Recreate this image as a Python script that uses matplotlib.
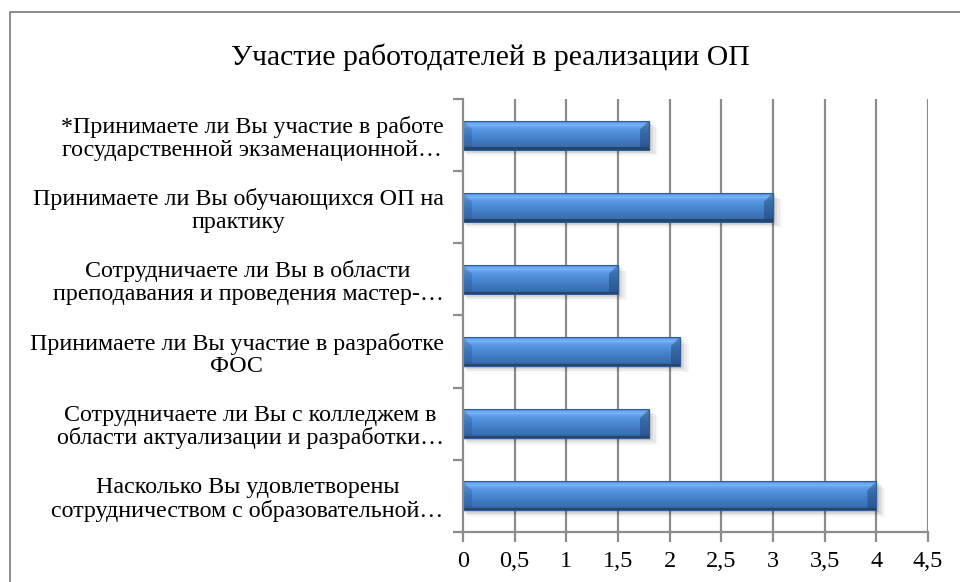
import matplotlib
matplotlib.use("Agg")
import matplotlib.pyplot as plt
import numpy as np
from matplotlib.colors import LinearSegmentedColormap
from matplotlib.patches import Polygon, Rectangle
from matplotlib.lines import Line2D

plt.rcParams['font.family'] = ['Liberation Serif', 'DejaVu Serif']

title = "Участие работодателей в реализации ОП"
categories = [
    "*Принимаете ли Вы участие в работе\nгосударственной экзаменационной…",
    "Принимаете ли Вы обучающихся ОП на\nпрактику",
    "Сотрудничаете ли Вы в области\nпреподавания и проведения мастер-…",
    "Принимаете ли Вы участие в разработке\nФОС",
    "Сотрудничаете ли Вы с колледжем в\nобласти актуализации и разработки…",
    "Насколько Вы удовлетворены\nсотрудничеством с образовательной…",
]
values = [1.8, 3.0, 1.5, 2.1, 1.8, 4.0]
xticks = [0, 0.5, 1, 1.5, 2, 2.5, 3, 3.5, 4, 4.5]
xtick_labels = ["0", "0,5", "1", "1,5", "2", "2,5", "3", "3,5", "4", "4,5"]

W, H = 960, 582
fig = plt.figure(figsize=(W / 100, H / 100), dpi=100)
ax = fig.add_axes([463 / W, 1 - 532 / H, (928 - 463) / W, (532 - 99) / H])

n = len(categories)
ypos = np.arange(n)[::-1]  # first category at top
bar_h = 0.4

ax.set_xlim(0, 4.5)
ax.set_ylim(-0.5, n - 0.5)

# gridlines
for xv in xticks[1:]:
    ax.axvline(xv, color="#8c8c8c", lw=1.6, zorder=0)

cmap = LinearSegmentedColormap.from_list(
    "bar3d",
    [(0.0, "#2b5489"), (0.12, "#3a6db0"), (0.45, "#4682cc"),
     (0.75, "#5b9ae6"), (0.88, "#7db6f5"), (0.94, "#5e9ee8"), (1.0, "#3f7cc8")])
grad = np.linspace(0, 1, 256).reshape(-1, 1)

bars = ax.barh(ypos, values, height=bar_h, color="none", edgecolor="none", zorder=3)

px_x = 4.5 / (928 - 463)
px_y = n / (532 - 99)
bev_x = 9 * px_x
bev_y = 9 * px_y

for b, v, y in zip(bars, values, ypos):
    y0, y1 = y - bar_h / 2, y + bar_h / 2
    for k, a in enumerate([0.10, 0.07, 0.05, 0.03]):
        off = (k + 1) * 1.6
        ax.add_patch(Rectangle((off * px_x * 0.6, y0 - off * px_y),
                               v + off * px_x * 0.8, bar_h,
                               facecolor="#000000", alpha=a, edgecolor="none", zorder=2))
    im = ax.imshow(grad, extent=(0, v, y0, y1), origin="lower", aspect="auto",
                   cmap=cmap, zorder=3, interpolation="bicubic")
    im.set_clip_path(b)
    ax.add_patch(Polygon([(0, y1), (bev_x, y1 - bev_y), (bev_x, y0 + bev_y * 0.3), (0, y0)],
                         closed=True, facecolor="#1f4a80", alpha=0.25, edgecolor="none", zorder=4))
    ax.add_patch(Polygon([(v, y1), (v - bev_x, y1 - bev_y), (v - bev_x, y0 + bev_y * 0.3), (v, y0)],
                         closed=True, facecolor="#1a3f6e", alpha=0.45, edgecolor="none", zorder=4))
    ax.add_patch(Rectangle((0, y0), v, 2.2 * px_y, facecolor="#223f66", alpha=0.8,
                           edgecolor="none", zorder=4))
    ax.add_patch(Rectangle((0, y0), v, bar_h, facecolor="none", edgecolor="#2f5d96",
                           lw=0.8, zorder=5))

for s in ["top", "right"]:
    ax.spines[s].set_visible(False)
for s in ["left", "bottom"]:
    ax.spines[s].set_color("#8c8c8c")
    ax.spines[s].set_linewidth(1.6)
    ax.spines[s].set_zorder(6)

ax.set_xticks(xticks)
ax.set_xticklabels(xtick_labels, fontsize=17.5)
ax.tick_params(axis="x", length=7, width=1.6, color="#8c8c8c", pad=6.5)

ax.set_yticks(ypos)
ax.set_yticklabels(categories, fontsize=17.3, multialignment="center", linespacing=1.1)
ax.set_yticks(np.arange(-0.5, n, 1.0), minor=True)
ax.tick_params(axis="y", which="major", length=0, pad=14)
ax.tick_params(axis="y", which="minor", length=7, width=1.6, color="#8c8c8c")

fig.text(490 / W, 1 - 57 / H, title, ha="center", va="center", fontsize=21.4)

fig.add_artist(Line2D([10 / W, 10 / W, 1.01], [-0.01, 1 - 12 / H, 1 - 12 / H],
                      transform=fig.transFigure, color="#8c8c8c", lw=1.4))

fig.savefig("out.png", dpi=100)
